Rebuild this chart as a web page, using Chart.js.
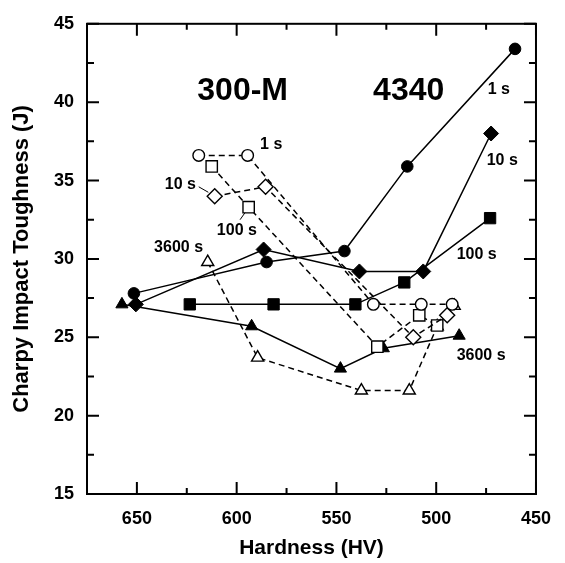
<!DOCTYPE html>
<html>
<head>
<meta charset="utf-8">
<script src="https://cdn.jsdelivr.net/npm/chart.js@4.4.1/dist/chart.umd.min.js"></script>
<style>
  html, body { margin: 0; padding: 0; background: #fff; }
  #wrap { width: 565px; height: 563px; }
</style>
</head>
<body>
<div id="wrap"><canvas id="toughnessChart" width="565" height="563"></canvas></div>
<script>
// 4340 steel (filled symbols, solid lines)
const hardness4340_1s = [651.5, 585.0, 546.0, 514.5, 460.5];
const toughness4340_1s = [27.8, 29.8, 30.5, 35.9, 43.4];
const hardness4340_10s = [650.5, 586.5, 538.5, 506.5, 472.5];
const toughness4340_10s = [27.1, 30.6, 29.2, 29.2, 38.0];
const hardness4340_100s = [623.5, 581.5, 540.5, 516.0, 473.0];
const toughness4340_100s = [27.1, 27.1, 27.1, 28.5, 32.6];
const hardness4340_3600s = [657.5, 592.5, 548.0, 526.5, 488.5];
const toughness4340_3600s = [27.1, 25.7, 23.0, 24.3, 25.1];

// 300-M steel (open symbols, dashed lines)
const hardness300M_1s = [619.0, 594.5, 531.5, 507.5, 492.0];
const toughness300M_1s = [36.6, 36.6, 27.1, 27.1, 27.1];
const hardness300M_10s = [611.0, 585.5, 511.5, 494.5];
const toughness300M_10s = [34.0, 34.6, 25.0, 26.4];
const hardness300M_100s = [612.5, 594.0, 529.5, 508.5, 499.5];
const toughness300M_100s = [35.9, 33.3, 24.4, 26.4, 25.75];
const hardness300M_3600s = [614.5, 589.5, 537.5, 513.5, 499.5, 491.0];
const toughness300M_3600s = [29.8, 23.7, 21.6, 21.6, 25.7, 27.0];

// axis ticks
const xTickLabels = [650, 600, 550, 500, 450];
const xMinorTicks = [625, 575, 525, 475];
const yTickLabels = [15, 20, 25, 30, 35, 40, 45];
const yMinorTicks = [17.5, 22.5, 27.5, 32.5, 37.5, 42.5];

const FONT = "'Liberation Sans', Arial, Helvetica, sans-serif";

const toPoints = (xs, ys) => xs.map((x, i) => ({ x: x, y: ys[i] }));

function series(label, xs, ys, shape, filled, radius) {
    return {
        label: label,
        data: toPoints(xs, ys),
        showLine: true,
        borderColor: '#000',
        borderWidth: 1.5,
        borderDash: filled ? [] : [6, 4],
        pointStyle: shape,
        pointRadius: radius,
        pointBorderWidth: filled ? 1 : 1.4,
        pointBackgroundColor: filled ? '#000' : '#fff',
        pointBorderColor: '#000',
        fill: false,
        tension: 0
    };
}

const datasets = [
    series('300-M 1 s', hardness300M_1s, toughness300M_1s, 'circle', false, 5.8),
    series('300-M 10 s', hardness300M_10s, toughness300M_10s, 'rectRot', false, 7.5),
    series('300-M 100 s', hardness300M_100s, toughness300M_100s, 'rect', false, 8),
    series('300-M 3600 s', hardness300M_3600s, toughness300M_3600s, 'triangle', false, 7),
    series('4340 1 s', hardness4340_1s, toughness4340_1s, 'circle', true, 5.8),
    series('4340 10 s', hardness4340_10s, toughness4340_10s, 'rectRot', true, 7.5),
    series('4340 100 s', hardness4340_100s, toughness4340_100s, 'rect', true, 8),
    series('4340 3600 s', hardness4340_3600s, toughness4340_3600s, 'triangle', true, 7)
];

// text written on the plot, placed in data units
const plotTexts = [
    { text: '300-M', x: 597, y: 40.7, size: 32 },
    { text: '4340', x: 513.8, y: 40.7, size: 32 },
    { text: '1 s', x: 468.6, y: 40.8, size: 16 },
    { text: '10 s', x: 466.9, y: 36.3, size: 16 },
    { text: '100 s', x: 479.7, y: 30.3, size: 16 },
    { text: '3600 s', x: 477.5, y: 23.8, size: 16 },
    { text: '1 s', x: 582.7, y: 37.3, size: 16 },
    { text: '10 s', x: 628.2, y: 34.75, size: 16 },
    { text: '100 s', x: 599.9, y: 31.8, size: 16 },
    { text: '3600 s', x: 629.1, y: 30.75, size: 16 }
];
const leaderLines = [
    [[619.0, 34.6], [614.2, 34.25]],
    [[598.3, 32.5], [595.8, 32.95]]
];

const framePlugin = {
    id: 'frameTicks',
    afterDraw(chart) {
        const { ctx, chartArea: a, scales: { x, y } } = chart;
        ctx.save();
        ctx.strokeStyle = '#000';
        ctx.lineWidth = 2;
        ctx.strokeRect(a.left, a.top, a.right - a.left, a.bottom - a.top);
        ctx.beginPath();
        const xTick = (v, len) => {
            const px = x.getPixelForValue(v);
            ctx.moveTo(px, a.bottom); ctx.lineTo(px, a.bottom - len);
            ctx.moveTo(px, a.top); ctx.lineTo(px, a.top + len);
        };
        const yTick = (v, len) => {
            const py = y.getPixelForValue(v);
            ctx.moveTo(a.left, py); ctx.lineTo(a.left + len, py);
            ctx.moveTo(a.right, py); ctx.lineTo(a.right - len, py);
        };
        xTickLabels.forEach(v => xTick(v, 12));
        xMinorTicks.forEach(v => xTick(v, 6));
        yTickLabels.forEach(v => yTick(v, 12));
        yMinorTicks.forEach(v => yTick(v, 7));
        ctx.stroke();

        ctx.lineWidth = 1;
        ctx.beginPath();
        leaderLines.forEach(l => {
            ctx.moveTo(x.getPixelForValue(l[0][0]), y.getPixelForValue(l[0][1]));
            ctx.lineTo(x.getPixelForValue(l[1][0]), y.getPixelForValue(l[1][1]));
        });
        ctx.stroke();

        ctx.fillStyle = '#000';
        ctx.textAlign = 'center';
        ctx.textBaseline = 'middle';
        plotTexts.forEach(t => {
            ctx.font = 'bold ' + t.size + 'px ' + FONT;
            ctx.fillText(t.text, x.getPixelForValue(t.x), y.getPixelForValue(t.y));
        });
        ctx.restore();
    }
};

const ctx = document.getElementById('toughnessChart').getContext('2d');
const chart = new Chart(ctx, {
    type: 'scatter',
    data: { datasets: datasets },
    plugins: [framePlugin],
    options: {
        responsive: false,
        animation: false,
        layout: { autoPadding: false, padding: { top: 19, right: 17, left: 0, bottom: 0 } },
        plugins: {
            legend: { display: false },
            tooltip: { enabled: false }
        },
        scales: {
            x: {
                type: 'linear',
                reverse: true,
                min: 450,
                max: 675,
                grid: { display: false, drawTicks: false },
                border: { display: false },
                afterBuildTicks: scale => { scale.ticks = xTickLabels.map(v => ({ value: v })); },
                afterFit: scale => { scale.height = 69; },
                ticks: {
                    padding: 14,
                    color: '#000',
                    font: { family: FONT, size: 18, weight: 'bold' }
                },
                title: {
                    display: true,
                    text: 'Hardness (HV)',
                    color: '#000',
                    padding: { top: 0, bottom: 2 },
                    font: { family: FONT, size: 21, weight: 'bold' }
                }
            },
            y: {
                type: 'linear',
                min: 15,
                max: 45,
                grid: { display: false, drawTicks: false },
                border: { display: false },
                afterBuildTicks: scale => { scale.ticks = yTickLabels.map(v => ({ value: v })); },
                afterFit: scale => { scale.width = 87; },
                ticks: {
                    padding: 13,
                    color: '#000',
                    font: { family: FONT, size: 18, weight: 'bold' }
                },
                title: {
                    display: true,
                    text: 'Charpy Impact Toughness (J)',
                    color: '#000',
                    padding: { top: 9, bottom: 0 },
                    font: { family: FONT, size: 22, weight: 'bold' }
                }
            }
        }
    }
});
</script>
</body>
</html>
